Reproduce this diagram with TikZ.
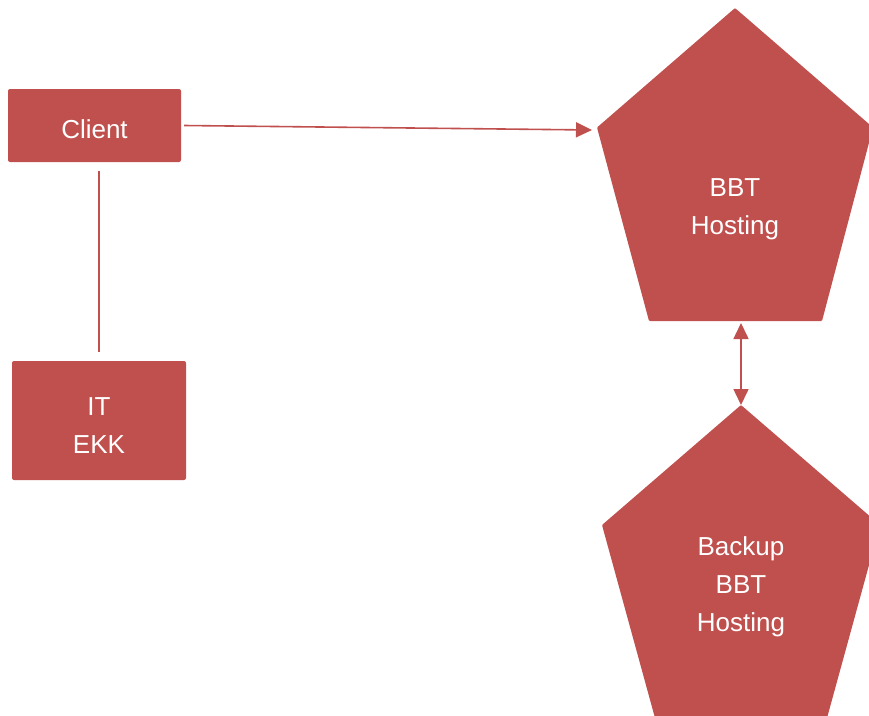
\documentclass[tikz,border=0pt]{standalone}
\usepackage{fontspec}
\setmainfont{Liberation Sans}
\usetikzlibrary{arrows.meta}
\definecolor{accent}{HTML}{C0504D}
\begin{document}
\begin{tikzpicture}[x=1pt,y=-1pt,
  >={Triangle[length=16pt,width=15pt]},
  box/.style={fill=accent, draw=none, rounded corners=2pt, inner sep=0pt},
  lbl/.style={text=white, align=center, font=\fontsize{26}{38}\selectfont, inner sep=0pt},
  conn/.style={draw=accent, line width=1.6pt},
  penta/.style={fill=accent, rounded corners=1pt}]
\useasboundingbox (0,0) rectangle (869,715);

\node[box, minimum width=173pt, minimum height=73pt] (client) at (94.5,125.5) {};
\node[lbl] (clienttext) at (94.5,129.5) {Client};
\node[box, minimum width=174pt, minimum height=119pt] (it) at (99,420.5) {};
\node[lbl] (ittext) at (99,425.5) {IT\\EKK};

% BBT Hosting pentagon
\coordinate (bbtT) at (735,8);
\coordinate (bbtR) at (873,127.5);
\coordinate (bbtBR) at (822,321);
\coordinate (bbtBL) at (649,321);
\coordinate (bbtL) at (597,127.5);
\fill[penta] (bbtT) -- (bbtR) -- (bbtBR) -- (bbtBL) -- (bbtL) -- cycle;
\node[lbl] (bbt) at (735,209) {BBT\\Hosting};

% Backup pentagon
\coordinate (bkT) at (741,405);
\coordinate (bkR) at (880,525);
\coordinate (bkBR) at (827,718);
\coordinate (bkBL) at (655,718);
\coordinate (bkL) at (602,525);
\fill[penta] (bkT) -- (bkR) -- (bkBR) -- (bkBL) -- (bkL) -- cycle;
\node[lbl] (backup) at (741,587) {Backup\\BBT\\Hosting};

% connectors
\coordinate (bbtIn) at (592,130);
\coordinate (bbtOut) at (741,323);
\draw[conn, ->] ([xshift=3pt]client.east) -- (bbtIn);
\draw[conn] ([yshift=-9pt]it.north |- client.south) -- ([yshift=9pt]it.north);
\draw[conn, <->] (bbtOut) -- (bkT);
\end{tikzpicture}
\end{document}
